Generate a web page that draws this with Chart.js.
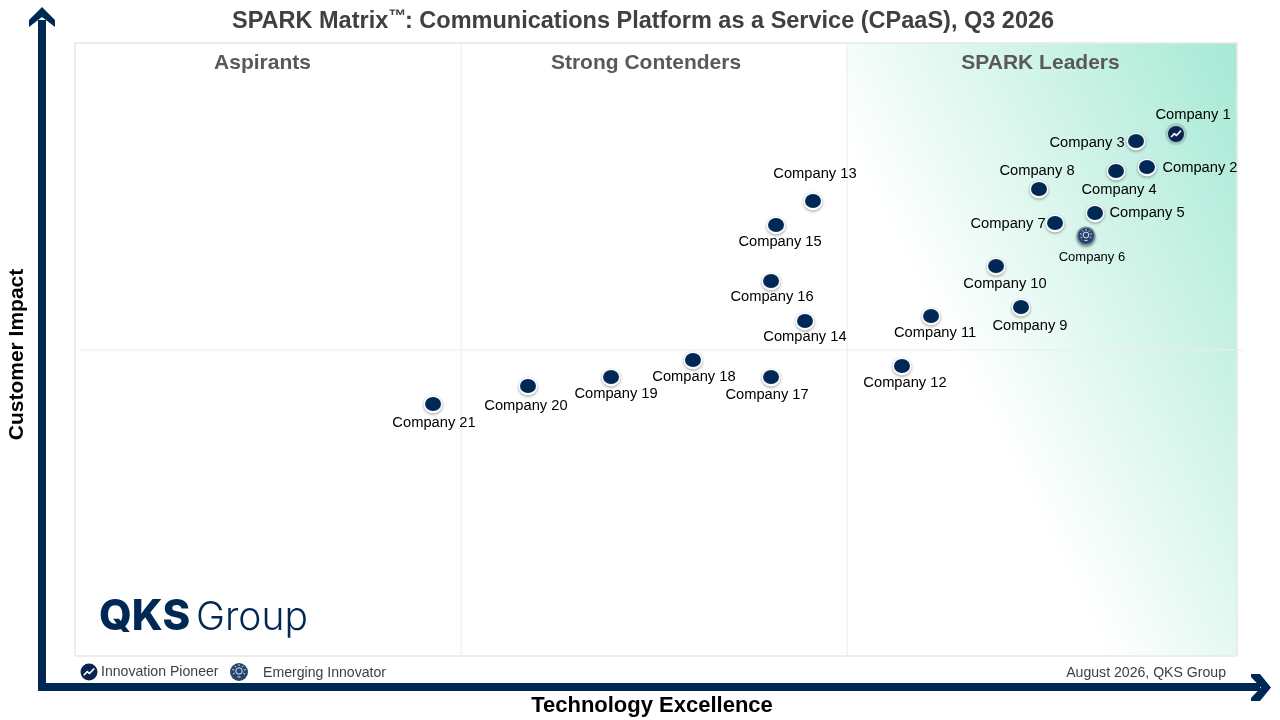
<!DOCTYPE html>
<html>
<head>
<meta charset="utf-8">
<title>SPARK Matrix</title>
<script src="https://cdn.jsdelivr.net/npm/chart.js@4/dist/chart.umd.min.js"></script>
<style>
  html, body { margin: 0; padding: 0; background: #fff; }
  #wrap { width: 1280px; height: 720px; position: relative; }
</style>
</head>
<body>
<div id="wrap"><canvas id="matrix" width="1280" height="720"></canvas></div>
<script>
const companies = ['Company 1', 'Company 2', 'Company 3', 'Company 4', 'Company 5', 'Company 6', 'Company 7',
    'Company 8', 'Company 9', 'Company 10', 'Company 11', 'Company 12', 'Company 13', 'Company 14',
    'Company 15', 'Company 16', 'Company 17', 'Company 18', 'Company 19', 'Company 20', 'Company 21'];
const techExcellence = [94.75, 92.25, 91.31, 89.59, 87.78, 87.0, 84.34, 82.96, 81.41, 79.26, 73.67,
    71.17, 63.51, 62.82, 60.33, 59.9, 59.9, 53.18, 46.13, 38.98, 30.81];
const customerImpact = [85.15, 79.77, 84.01, 79.12, 72.27, 68.52, 70.64, 76.18, 56.93, 63.62, 55.46,
    47.31, 74.23, 54.65, 70.31, 61.17, 45.51, 48.29, 45.51, 44.05, 41.11];
const quadrantNames = ['Aspirants', 'Strong Contenders', 'SPARK Leaders'];
const quadrantEdges = [33.2, 66.4];
const impactMid = 50;
const PIONEER = 'Company 1';
const EMERGING = 'Company 6';

// label placement relative to each point, in px
const labelDx = [17, 53, -49, 3, 52, 6, -47, -2, 9, 9, 4, 3, 2, 0, 4, 1, -4, 1, 5, -2, 1];
const labelDy = [-19, 1, 2, 19, 0, 21, 1, -18, 19, 18, 17, 17, -27, 16, 17, 16, 18, 17, 17, 20, 19];
const quadrantLabelX = [262.5, 646, 1040.5];

const NAVY = '#002855';
const SANS = '"Liberation Sans", Arial, sans-serif';

function text(ctx, str, x, y, font, color, align) {
    ctx.font = font;
    ctx.fillStyle = color;
    ctx.textAlign = align || 'center';
    ctx.textBaseline = 'middle';
    ctx.fillText(str, x, y);
}

function drawPioneerIcon(ctx, x, y, r) {
    ctx.save();
    ctx.beginPath();
    ctx.arc(x, y, r, 0, Math.PI * 2);
    ctx.fillStyle = '#0a2350';
    ctx.fill();
    ctx.strokeStyle = '#fff';
    ctx.lineWidth = 1.6;
    ctx.lineJoin = 'round';
    ctx.beginPath();
    ctx.moveTo(x - r * 0.62, y + r * 0.38);
    ctx.lineTo(x - r * 0.2, y - r * 0.05);
    ctx.lineTo(x + r * 0.05, y + r * 0.18);
    ctx.lineTo(x + r * 0.62, y - r * 0.42);
    ctx.stroke();
    ctx.restore();
}

function drawEmergingIcon(ctx, x, y, r) {
    ctx.save();
    ctx.beginPath();
    ctx.arc(x, y, r, 0, Math.PI * 2);
    ctx.fillStyle = '#27466f';
    ctx.fill();
    ctx.strokeStyle = '#dfe6ee';
    ctx.lineWidth = 1;
    ctx.beginPath();
    ctx.arc(x, y - 1, r * 0.36, 0, Math.PI * 2);
    ctx.stroke();
    ctx.beginPath();
    ctx.moveTo(x - 1.5, y + r * 0.55);
    ctx.lineTo(x + 1.5, y + r * 0.55);
    ctx.stroke();
    for (let i = 0; i < 7; i++) {
        const a = Math.PI * (0.85 + i * 0.217);
        ctx.beginPath();
        ctx.moveTo(x + Math.cos(a) * r * 0.55, y - 1 + Math.sin(a) * r * 0.55);
        ctx.lineTo(x + Math.cos(a) * r * 0.75, y - 1 + Math.sin(a) * r * 0.75);
        ctx.stroke();
    }
    ctx.restore();
}

// marker sprites, handed to the dataset as pointStyle
function makeSprite(paint) {
    const c = document.createElement('canvas');
    c.width = 30;
    c.height = 30;
    paint(c.getContext('2d'), 15, 15);
    return c;
}

const plainDot = makeSprite((ctx, x, y) => {
    ctx.shadowColor = 'rgba(0,0,0,0.4)';
    ctx.shadowBlur = 3;
    ctx.shadowOffsetY = 1;
    ctx.fillStyle = '#fff';
    ctx.beginPath();
    ctx.ellipse(x, y + 0.5, 9.5, 9, 0, 0, Math.PI * 2);
    ctx.fill();
    ctx.shadowColor = 'transparent';
    ctx.fillStyle = NAVY;
    ctx.beginPath();
    ctx.ellipse(x, y, 8, 7, 0, 0, Math.PI * 2);
    ctx.fill();
});

const pioneerDot = makeSprite((ctx, x, y) => {
    ctx.fillStyle = 'rgba(120,140,140,0.35)';
    ctx.beginPath();
    ctx.arc(x, y, 11, 0, Math.PI * 2);
    ctx.fill();
    drawPioneerIcon(ctx, x, y, 8);
});

const emergingDot = makeSprite((ctx, x, y) => {
    ctx.shadowColor = 'rgba(0,0,0,0.45)';
    ctx.shadowBlur = 3;
    ctx.shadowOffsetY = 1.5;
    ctx.fillStyle = '#7d8ea3';
    ctx.beginPath();
    ctx.arc(x, y, 9.5, 0, Math.PI * 2);
    ctx.fill();
    ctx.shadowColor = 'transparent';
    drawEmergingIcon(ctx, x, y, 8);
});

function drawArrows(ctx) {
    ctx.save();
    ctx.fillStyle = NAVY;
    ctx.fillRect(38, 20, 8, 671);
    ctx.fillRect(38, 683, 1222, 8);
    // y arrow head
    ctx.beginPath();
    ctx.moveTo(42, 7);
    ctx.lineTo(55, 20);
    ctx.lineTo(55, 27);
    ctx.lineTo(42, 17);
    ctx.lineTo(29, 27);
    ctx.lineTo(29, 20);
    ctx.closePath();
    ctx.fill();
    // x arrow head
    ctx.beginPath();
    ctx.moveTo(1271, 687.5);
    ctx.lineTo(1260, 701);
    ctx.lineTo(1251, 701);
    ctx.lineTo(1251, 698);
    ctx.lineTo(1261, 687.5);
    ctx.lineTo(1251, 677);
    ctx.lineTo(1251, 674);
    ctx.lineTo(1260, 674);
    ctx.closePath();
    ctx.fill();
    ctx.restore();
}

function drawTitle(ctx) {
    const head = 'SPARK Matrix';
    const tm = '\u2122';
    const tail = ': Communications Platform as a Service (CPaaS), Q3 2026';
    const font = 'bold 23.5px ' + SANS;
    const y = 22;
    ctx.font = font;
    const headW = ctx.measureText(head).width;
    const x0 = 232;
    text(ctx, head, x0, y, font, '#404040', 'left');
    ctx.font = 'bold 18px ' + SANS;
    ctx.textAlign = 'left';
    ctx.textBaseline = 'alphabetic';
    ctx.fillText(tm, x0 + headW, 22);
    text(ctx, tail, 405, y, font, '#404040', 'left');
}

const backdrop = {
    id: 'backdrop',
    beforeDatasetsDraw(chart) {
        const { ctx, chartArea: a, scales: { x, y } } = chart;
        const splitA = x.getPixelForValue(quadrantEdges[0]);
        const splitB = x.getPixelForValue(quadrantEdges[1]);
        const midY = y.getPixelForValue(impactMid);

        ctx.save();
        // leaders quadrant wash
        const grad = ctx.createLinearGradient(950, 350, 1302, 170);
        grad.addColorStop(0, '#ffffff');
        grad.addColorStop(1, '#a5e9d4');
        ctx.fillStyle = grad;
        ctx.fillRect(splitB, a.top, a.right - splitB, a.bottom - a.top);

        ctx.strokeStyle = '#e8e8e8';
        ctx.lineWidth = 1.5;
        ctx.strokeRect(a.left, a.top, a.right - a.left, a.bottom - a.top);
        ctx.lineWidth = 1;
        ctx.strokeStyle = '#ececec';
        ctx.beginPath();
        ctx.moveTo(splitA + 0.5, a.top);
        ctx.lineTo(splitA + 0.5, a.bottom);
        ctx.moveTo(splitB + 0.5, a.top);
        ctx.lineTo(splitB + 0.5, a.bottom);
        ctx.moveTo(80, midY + 0.5);
        ctx.lineTo(a.right + 6, midY + 0.5);
        ctx.stroke();
        ctx.restore();

        quadrantNames.forEach((name, i) => {
            text(ctx, name, quadrantLabelX[i], 63, 'bold 21px ' + SANS, '#595959');
        });

        drawTitle(ctx);
        drawArrows(ctx);

        ctx.save();
        ctx.translate(17, 354.5);
        ctx.rotate(-Math.PI / 2);
        text(ctx, 'Customer Impact', 0, 0, 'bold 21px ' + SANS, '#000');
        ctx.restore();
        text(ctx, 'Technology Excellence', 652, 706, 'bold 22px ' + SANS, '#000');

        // logo
        text(ctx, 'QKS', 99, 617, '800 42px Inter, ' + SANS, NAVY, 'left');
        text(ctx, 'Group', 196, 618, '300 39px Inter, ' + SANS, NAVY, 'left');

        // legend row
        drawPioneerIcon(ctx, 89, 672, 8.5);
        text(ctx, 'Innovation Pioneer', 101, 672, '14.1px ' + SANS, '#404040', 'left');
        drawEmergingIcon(ctx, 239, 672, 9);
        text(ctx, 'Emerging Innovator', 263, 673, '14.1px ' + SANS, '#404040', 'left');
        text(ctx, 'August 2026, QKS Group', 1226, 673, '14.1px ' + SANS, '#404040', 'right');
    },
    afterDatasetsDraw(chart) {
        const { ctx } = chart;
        const pts = chart.getDatasetMeta(0).data;
        companies.forEach((name, i) => {
            const p = pts[i];
            const font = name === EMERGING ? '13px ' : '14.7px ';
            text(ctx, name, p.x + labelDx[i], p.y + labelDy[i], font + SANS, '#000');
        });
    }
};

new Chart(document.getElementById('matrix'), {
    type: 'scatter',
    data: {
        datasets: [{
            label: 'Vendors',
            data: companies.map((c, i) => ({ x: techExcellence[i], y: customerImpact[i] })),
            pointStyle: companies.map(c => c === PIONEER ? pioneerDot : c === EMERGING ? emergingDot : plainDot),
            pointRadius: 8,
            pointHoverRadius: 8
        }]
    },
    options: {
        responsive: false,
        animation: false,
        layout: { padding: { left: 75, right: 43, top: 43, bottom: 64 } },
        plugins: { legend: { display: false }, tooltip: { enabled: false } },
        scales: {
            x: { type: 'linear', min: 0, max: 100, display: false },
            y: { type: 'linear', min: 0, max: 100, display: false }
        }
    },
    plugins: [backdrop]
});
</script>
</body>
</html>
